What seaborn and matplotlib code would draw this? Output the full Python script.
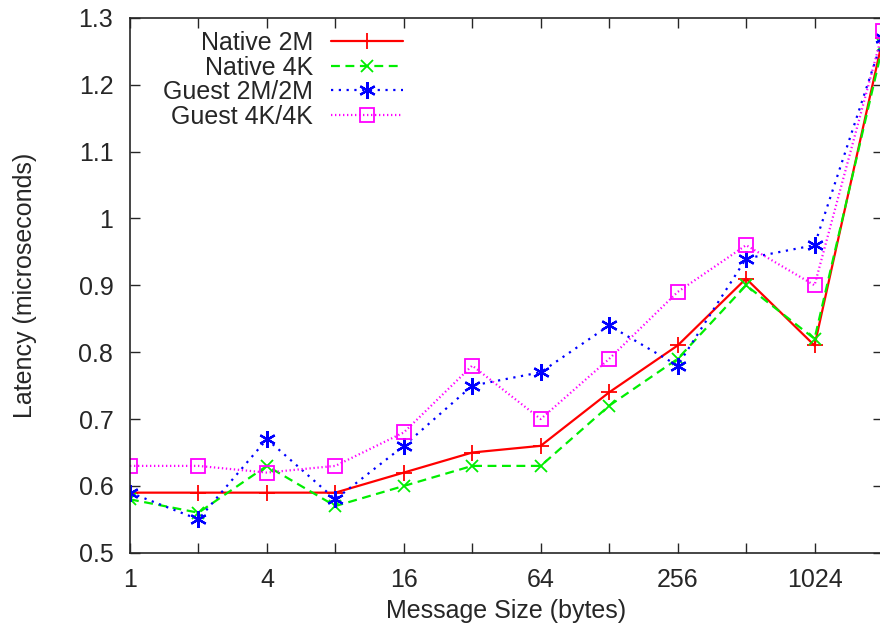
import numpy as np
import pandas as pd
import matplotlib
matplotlib.use("Agg")
import matplotlib.pyplot as plt
import seaborn as sns

sizes = [1, 2, 4, 8, 16, 32, 64, 128, 256, 512, 1024, 2048]
native_2m = [0.59, 0.59, 0.59, 0.59, 0.62, 0.65, 0.66, 0.74, 0.81, 0.91, 0.81, 1.27]
native_4k = [0.58, 0.56, 0.63, 0.57, 0.60, 0.63, 0.63, 0.72, 0.79, 0.90, 0.82, 1.26]
guest_2m = [0.59, 0.55, 0.67, 0.58, 0.66, 0.75, 0.77, 0.84, 0.78, 0.94, 0.96, 1.27]
guest_4k = [0.63, 0.63, 0.62, 0.63, 0.68, 0.78, 0.70, 0.79, 0.89, 0.96, 0.90, 1.28]

series = {
    "Native 2M": native_2m,
    "Native 4K": native_4k,
    "Guest 2M/2M": guest_2m,
    "Guest 4K/4K": guest_4k,
}
styles = {
    "Native 2M": dict(color="#ff0000", ls="-", marker="+", ms=12, mew=1.3),
    "Native 4K": dict(color="#00ee00", ls=(0, (4, 2.5)), marker="x", ms=9, mew=1.3),
    "Guest 2M/2M": dict(color="#0000ff", ls=(0, (1, 2.5)), marker=(6, 2, 0), ms=12, mew=1.6),
    "Guest 4K/4K": dict(color="#ff00ff", ls=(0, (0.6, 1.2)), marker="s", ms=10, mew=1.3,
                        mfc="none"),
}

sns.set_style("ticks")
plt.rcParams["font.family"] = ["Liberation Sans", "DejaVu Sans"]
fs = 18

fig = plt.figure(figsize=(8.8, 6.34), dpi=100)
ax = fig.add_axes([0.1477, 0.128, 0.8557, 0.844])

for name, vals in series.items():
    df = pd.DataFrame({"size": sizes, "lat": vals})
    st = styles[name]
    sns.lineplot(data=df, x="size", y="lat", ax=ax, label=name, color=st["color"],
                 linestyle=st["ls"], marker=st["marker"], markersize=st["ms"],
                 markeredgewidth=st["mew"], markeredgecolor=st["color"],
                 markerfacecolor=st.get("mfc", st["color"]), linewidth=1.6)

ax.set_xscale("log", base=2)
ax.set_xlim(1, 2048)
ax.set_ylim(0.5, 1.3)
ax.set_xticks(sizes[:-1])
ax.set_xticklabels([str(s) if i % 2 == 0 else "" for i, s in enumerate(sizes[:-1])])
ax.minorticks_off()
ax.set_yticks(np.round(np.arange(0.5, 1.31, 0.1), 1))
ax.set_yticklabels(["0.5", "0.6", "0.7", "0.8", "0.9", "1", "1.1", "1.2", "1.3"])
ax.tick_params(direction="in", length=7, width=1, labelsize=fs, top=True, right=True)
ax.tick_params(axis="x", pad=11)
ax.tick_params(axis="y", pad=12)
for sp in ax.spines.values():
    sp.set_linewidth(1.2)

ax.set_xlabel("Message Size (bytes)", fontsize=fs, labelpad=5)
ax.set_ylabel("Latency (microseconds)", fontsize=fs, labelpad=30)

ax.legend(loc="upper left", bbox_to_anchor=(0.021, 1.0075), frameon=False, markerfirst=False,
          fontsize=fs, handlelength=2.9, labelspacing=0.02, borderaxespad=0.3,
          handletextpad=0.7)

fig.savefig("out.png", dpi=100)
